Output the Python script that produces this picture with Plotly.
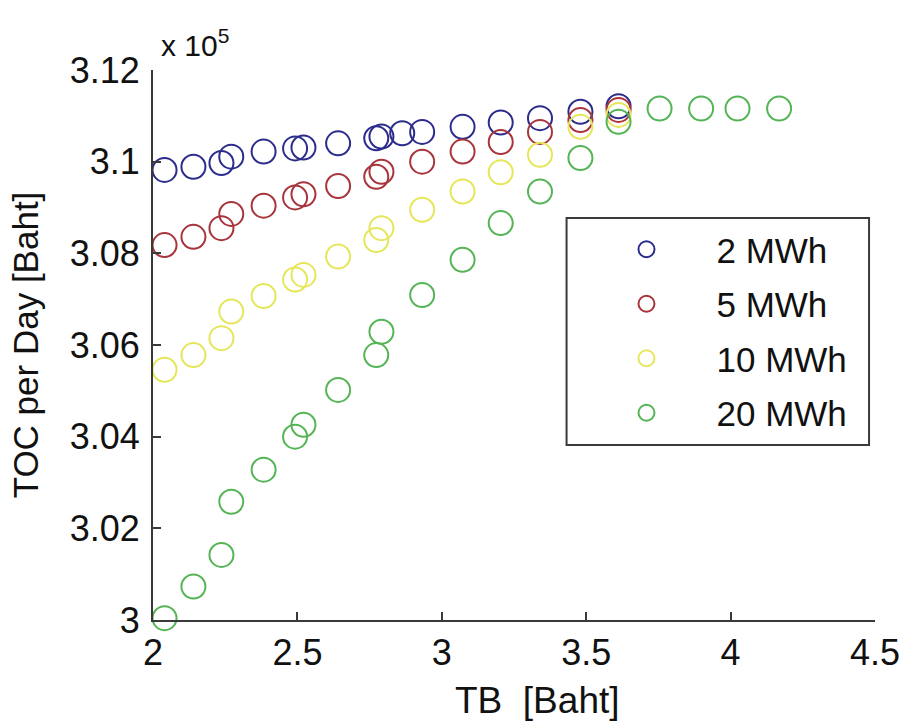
import plotly.graph_objects as go

# TB [Baht] values (x) for each series
x_2mwh = [2.04, 2.14, 2.237, 2.271, 2.383, 2.492, 2.521, 2.641, 2.773, 2.791,
          2.863, 2.932, 3.072, 3.204, 3.340, 3.480, 3.612]
x_5mwh = [2.04, 2.14, 2.237, 2.271, 2.383, 2.492, 2.521, 2.641, 2.773, 2.791,
          2.932, 3.072, 3.204, 3.340, 3.480, 3.612]
x_10mwh = [2.04, 2.14, 2.237, 2.271, 2.383, 2.492, 2.521, 2.641, 2.773, 2.791,
           2.932, 3.072, 3.204, 3.340, 3.480, 3.612]
x_20mwh = [2.04, 2.14, 2.237, 2.271, 2.383, 2.492, 2.521, 2.641, 2.773, 2.791,
           2.932, 3.072, 3.204, 3.340, 3.480, 3.612, 3.754, 3.898, 4.024, 4.168]

# TOC per Day [Baht] values (y)
y_2mwh = [309820, 309890, 309970, 310110, 310220, 310290, 310310, 310400, 310510, 310550,
          310620, 310650, 310760, 310855, 310950, 311090, 311210]
y_5mwh = [308180, 308360, 308550, 308860, 309040, 309220, 309290, 309470, 309670, 309780,
          310000, 310220, 310430, 310650, 310910, 311130]
y_10mwh = [305460, 305780, 306150, 306730, 307070, 307430, 307530, 307930, 308290, 308550,
           308950, 309350, 309770, 310150, 310760, 311020]
y_20mwh = [300040, 300730, 301420, 302580, 303280, 304000, 304260, 305020, 305780, 306290,
           307090, 307860, 308660, 309350, 310080, 310870, 311160, 311160, 311160, 311160]

series_names = ["2 MWh", "5 MWh", "10 MWh", "20 MWh"]
series_colors = ["#2c2c8c", "#a8343c", "#e6e65a", "#55b455"]

x_ticks = [2, 2.5, 3, 3.5, 4, 4.5]
x_ticklabels = ["2", "2.5", "3", "3.5", "4", "4.5"]
y_ticks = [300000, 302000, 304000, 306000, 308000, 310000, 312000]
y_ticklabels = ["3", "3.02", "3.04", "3.06", "3.08", "3.1", "3.12"]

x_title = "TB  [Baht]"
y_title = "TOC per Day [Baht]"
exponent_label = "x 10<sup>5</sup>"

FONT = "Liberation Sans, Arial, sans-serif"

fig = go.Figure()
for i, (xs, ys) in enumerate([(x_2mwh, y_2mwh), (x_5mwh, y_5mwh),
                              (x_10mwh, y_10mwh), (x_20mwh, y_20mwh)]):
    fig.add_trace(go.Scatter(
        x=xs, y=ys, mode="markers", name=series_names[i],
        legendgroup=f"g{i}",
        marker=dict(symbol="circle-open", size=24,
                    color=series_colors[i],
                    line=dict(color=series_colors[i], width=2)),
        cliponaxis=False,
    ))

axis_common = dict(
    showline=True, linecolor="#3a3a3a", linewidth=2,
    ticks="inside", ticklen=8, tickwidth=2, tickcolor="#3a3a3a",
    showgrid=False, zeroline=False, mirror=False,
    tickfont=dict(family=FONT, size=36, color="#111111"),
)

fig.update_xaxes(range=[2, 4.5], tickvals=x_ticks, ticktext=x_ticklabels, **axis_common)
fig.update_yaxes(range=[300000, 312000], tickvals=y_ticks, ticktext=y_ticklabels,
                 ticklabelstandoff=4,
                 title=dict(text=y_title, font=dict(family=FONT, size=35, color="#111111"),
                            standoff=20),
                 **axis_common)

# x-axis title (placed as in the reference, right of centre)
fig.add_annotation(xref="paper", yref="paper", x=0.533, y=-0.1455,
                   xanchor="center", yanchor="middle", text=x_title, showarrow=False,
                   font=dict(family=FONT, size=37, color="#111111"))

fig.add_annotation(xref="paper", yref="paper", x=0.008, y=1.0, xanchor="left", yanchor="bottom",
                   yshift=6, text=exponent_label, showarrow=False,
                   font=dict(family=FONT, size=30, color="#111111"))

# legend frame
fig.add_shape(type="rect", xref="paper", yref="paper",
              x0=(570 - 153) / 728, x1=(875 - 153) / 728,
              y0=(620 - 445) / 550, y1=(620 - 218) / 550,
              line=dict(color="#3a3a3a", width=2), fillcolor="white", layer="above")

fig.update_layout(
    width=912, height=723,
    margin=dict(l=153, r=31, t=70, b=103),
    paper_bgcolor="white", plot_bgcolor="white",
    showlegend=True,
    legend=dict(x=(580 - 153) / 728, y=(620 - 220) / 550, xanchor="left", yanchor="top",
                bgcolor="rgba(0,0,0,0)", borderwidth=0,
                font=dict(family=FONT, size=35, color="#111111"),
                tracegroupgap=6, itemwidth=130),
)

fig.write_html("out.html")
